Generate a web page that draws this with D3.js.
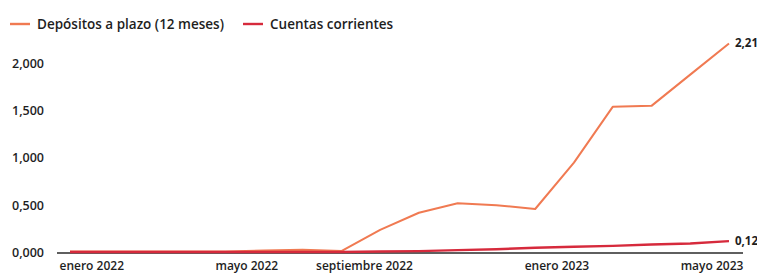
<!DOCTYPE html>
<html>
<head>
<meta charset="utf-8">
<script src="https://cdn.jsdelivr.net/npm/d3@7"></script>
<style>
  html, body { margin: 0; padding: 0; background: #fff; }
  svg { display: block; }
  text { font-family: "Open Sans", "Noto Sans", sans-serif; fill: #1e1e1e; }
</style>
</head>
<body>
<svg id="chart" width="757" height="277"></svg>
<script>
// ---- data ----
const months = ["dic 2021","ene 2022","feb 2022","mar 2022","abr 2022","may 2022","jun 2022","jul 2022",
  "ago 2022","sep 2022","oct 2022","nov 2022","dic 2022","ene 2023","feb 2023","mar 2023","abr 2023","may 2023"];
const seriesNames = ["Depósitos a plazo (12 meses)", "Cuentas corrientes"];
const depositos = [0.01,0.01,0.01,0.01,0.01,0.02,0.03,0.015,0.24,0.42,0.52,0.50,0.46,0.95,1.54,1.55,1.88,2.21];
const cuentas   = [0.005,0.005,0.005,0.005,0.005,0.005,0.005,0.005,0.01,0.015,0.025,0.035,0.05,0.06,0.07,0.085,0.095,0.12];
const yTicks = [0, 0.5, 1, 1.5, 2];
const xTickMonths = ["ene 2022","may 2022","sep 2022","ene 2023","may 2023"];
const xTickLabels = ["enero 2022","mayo 2022","septiembre 2022","enero 2023","mayo 2023"];
const colors = ["#f07a52", "#d62a3c"];

// ---- layout ----
const svg = d3.select("#chart");
const x = d3.scalePoint().domain(months).range([70, 729]);
const y = d3.scaleLinear().domain([0, 2]).range([252.5, 63.3]);
const fmt = v => d3.format(".3f")(v).replace(".", ",");
const fmtEnd = v => d3.format(".2f")(v).replace(".", ",");

// y labels
svg.append("g").selectAll("text").data(yTicks).join("text")
  .attr("x", 44).attr("y", d => y(d)).attr("dy", "0.35em")
  .attr("text-anchor", "end").attr("font-size", 12.5).attr("font-weight", 600)
  .text(fmt);

// baseline
svg.append("line").attr("x1", 57).attr("x2", 743)
  .attr("y1", y(0) + 0.5).attr("y2", y(0) + 0.5)
  .attr("stroke", "#2a2a2a").attr("stroke-width", 1.6);

// x labels
svg.append("g").selectAll("text").data(xTickMonths).join("text")
  .attr("x", (d, i) => xTickLabels[i].length > 12 ? x(d) - 6 : x(d) - 17)
  .attr("y", 270)
  .attr("text-anchor", (d, i) => xTickLabels[i].length > 12 ? "end" : "middle")
  .attr("font-size", 12).attr("font-weight", 600)
  .text((d, i) => xTickLabels[i]);

// lines
const line = d3.line().x((d, i) => x(months[i])).y(d => y(d));
[depositos, cuentas].forEach((s, k) => {
  svg.append("path").datum(s).attr("d", line)
    .attr("fill", "none").attr("stroke", colors[k])
    .attr("stroke-width", k === 1 ? 2.4 : 2).attr("stroke-linejoin", "round");
  svg.append("text")
    .attr("x", x(months[months.length - 1]) + 6)
    .attr("y", y(s[s.length - 1]))
    .attr("dy", "0.35em").attr("font-size", 11.5).attr("font-weight", 700)
    .text(fmtEnd(s[s.length - 1]));
});

// legend
const legX = [10, 243];
seriesNames.forEach((n, k) => {
  const g = svg.append("g").attr("transform", `translate(${legX[k]},24)`);
  g.append("line").attr("x1", 0).attr("x2", 20).attr("y1", 0).attr("y2", 0)
    .attr("stroke", colors[k]).attr("stroke-width", 2.4);
  g.append("text").attr("x", 27).attr("dy", "0.35em")
    .attr("font-size", 13.5).attr("font-weight", 600).text(n);
});
</script>
</body>
</html>
